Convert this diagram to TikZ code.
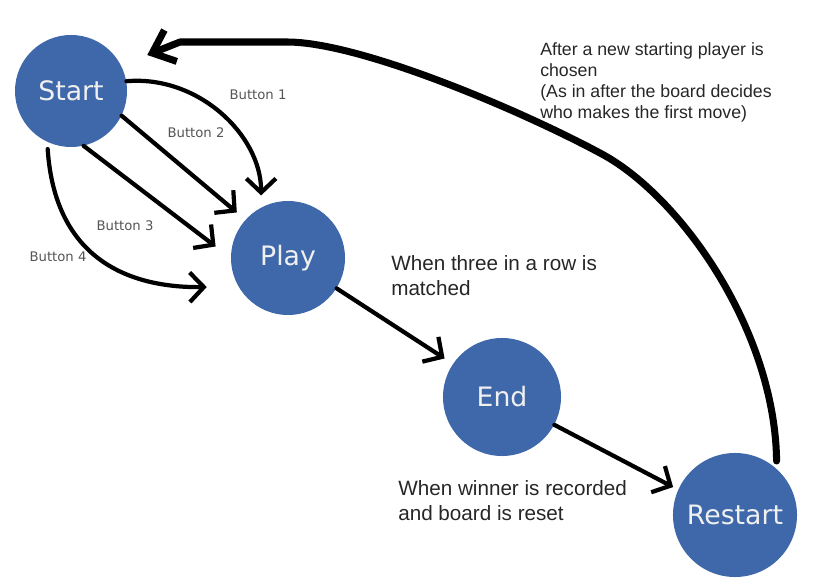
\documentclass[tikz,border=0pt]{standalone}
\usepackage{fontspec}
\setmainfont{Liberation Sans}
\newfontfamily\statefont{DejaVu Sans}
\usetikzlibrary{arrows.meta}
\definecolor{stateblue}{RGB}{63,104,170}
\definecolor{labelgray}{RGB}{85,85,85}

\begin{document}
\begin{tikzpicture}[x=0.025cm,y=-0.025cm,
  phase/.style={circle,fill=stateblue,text=white!94!black,inner sep=0pt,
    font=\statefont\fontsize{19}{22}\selectfont},
  flow/.style={line width=3pt,line cap=round,line join=round,
    -{Straight Barb[length=10pt,width=21pt]}},
  btn/.style={text=labelgray,font=\statefont\fontsize{9.4}{11}\selectfont},
  note/.style={align=left,anchor=west,inner sep=0pt,text=black!85}]
  \useasboundingbox (0,0) rectangle (825,583);
  % states
  \node[phase,minimum size=2.8cm] (start) at (71,91) {Start};
  \node[phase,minimum size=2.85cm] (play) at (288,258) {Play};
  \node[phase,minimum size=2.95cm] (end) at (502,397) {End};
  \node[phase,minimum size=3.1cm] (restart) at (735,515) {Restart};
  % buttons
  \draw[flow,shorten >=8.5pt] (start.10) to[out=5,in=90] (play.118);
  \draw[flow,shorten >=8pt] (start.-26) -- (play.138);
  \draw[flow,shorten >=13.5pt] (start.-77) -- (play.180);
  \draw[flow,shorten <=5pt,shorten >=22.5pt] (start.-115) .. controls (55,260) and (130,288) .. (play.210);
  \node[btn] (b1) at (258,95) {Button 1};
  \node[btn] (b2) at (196,133) {Button 2};
  \node[btn] (b3) at (125,226) {Button 3};
  \node[btn] (b4) at (58,257) {Button 4};
  % game flow
  \draw[flow,shorten >=7pt] (play.-32) -- (end.146);
  \draw[flow,shorten >=4pt] (end.-28) -- (restart.156);
  \draw[flow,line width=5pt,shorten <=5.5pt,shorten >=20pt,
    -{Straight Barb[length=14pt,width=24pt]}]
    (restart.48) .. controls (775,330) and (680,195) .. (600,153)
    .. controls (520,110) and (360,42) .. (287,42) -- (180,42) -- (start.27);
  % notes
  \node[note,font=\fontsize{14.7}{17.7}\selectfont] (n1) at (391,276)
    {When three in a row is\\matched};
  \node[note,font=\fontsize{14.7}{17.7}\selectfont] (n2) at (398,501)
    {When winner is recorded\\and board is reset};
  \node[note,font=\fontsize{12.6}{14.9}\selectfont] (n3) at (540,82)
    {After a new starting player is\\chosen\\(As in after the board decides\\who makes the first move)};
\end{tikzpicture}
\end{document}
